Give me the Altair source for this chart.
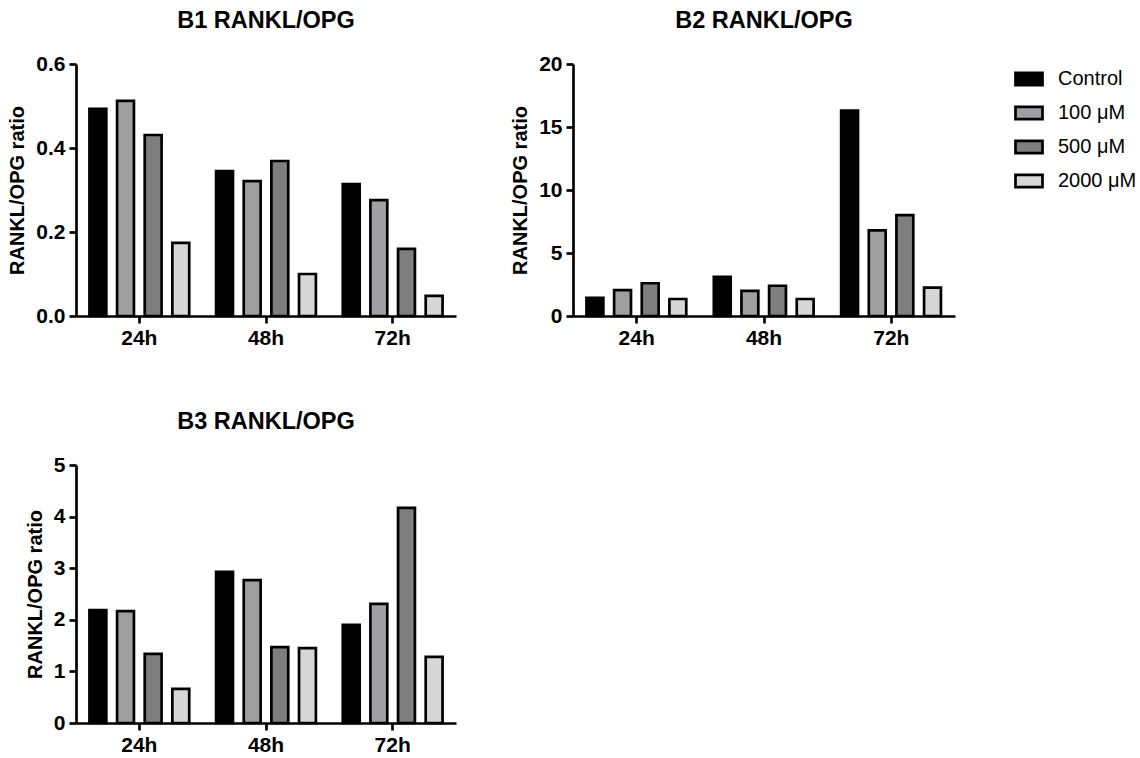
import altair as alt
import pandas as pd

times = ["24h", "48h", "72h"]
groups = ["Control", "100 μM", "500 μM", "2000 μM"]
colors = ["#000000", "#a0a0a4", "#7e7e7e", "#d7d7d7"]

# values per group, in order of times
b1_control = [0.493, 0.345, 0.314]
b1_100 = [0.512, 0.321, 0.276]
b1_500 = [0.431, 0.369, 0.160]
b1_2000 = [0.174, 0.100, 0.048]

b2_control = [1.45, 3.10, 16.3]
b2_100 = [2.05, 2.00, 6.80]
b2_500 = [2.60, 2.40, 8.00]
b2_2000 = [1.35, 1.35, 2.25]

b3_control = [2.19, 2.93, 1.90]
b3_100 = [2.17, 2.77, 2.31]
b3_500 = [1.34, 1.47, 4.17]
b3_2000 = [0.66, 1.45, 1.28]

FONT = "Liberation Sans"


def make_df(series):
    rows = []
    for g, vals in zip(groups, series):
        for t, v in zip(times, vals):
            rows.append({"time": t, "group": g, "value": v})
    return pd.DataFrame(rows)


def panel(title, series, ymax, step, fmt, width, height):
    df = make_df(series)
    ticks = [round(i * step, 6) for i in range(int(round(ymax / step)) + 1)]
    return alt.Chart(df).mark_bar(stroke="black", strokeWidth=2.7).encode(
        x=alt.X("time:N", sort=times,
                scale=alt.Scale(paddingInner=0.125, paddingOuter=0.0625),
                axis=alt.Axis(title=None, labelAngle=0)),
        xOffset=alt.XOffset("group:N", sort=groups,
                            scale=alt.Scale(paddingInner=0.39, paddingOuter=0.2)),
        y=alt.Y("value:Q", scale=alt.Scale(domain=[0, ymax], nice=False),
                axis=alt.Axis(title="RANKL/OPG ratio", values=ticks, format=fmt)),
        color=alt.Color("group:N", sort=groups,
                        scale=alt.Scale(domain=groups, range=colors),
                        legend=alt.Legend(title=None)),
    ).properties(
        width=width, height=height,
        title=alt.TitleParams(title, fontSize=23.5, fontWeight="bold", font=FONT,
                              anchor="middle", offset=21, color="black"),
    )


p1 = panel("B1 RANKL/OPG", [b1_control, b1_100, b1_500, b1_2000], 0.6, 0.2, ".1f", 380, 252)
p2 = panel("B2 RANKL/OPG", [b2_control, b2_100, b2_500, b2_2000], 20, 5, "d", 382, 252)
p3 = panel("B3 RANKL/OPG", [b3_control, b3_100, b3_500, b3_2000], 5, 1, "d", 380, 258)

chart = alt.vconcat(
    alt.hconcat(p1, p2, spacing=54),
    p3,
    spacing=61,
).properties(
    padding={"left": 7, "top": 8, "right": 0, "bottom": 0}
).configure_view(
    stroke=None
).configure_axis(
    domainColor="black", domainWidth=2.7, tickColor="black", tickWidth=2.7,
    tickSize=7, grid=False, labelFont=FONT, labelFontSize=21,
    labelFontWeight="bold", labelColor="black", labelPadding=4,
    titleFont=FONT, titleFontSize=20, titleFontWeight="bold", titleColor="black",
    titlePadding=8,
).configure_legend(
    orient="right", offset=59, labelFont=FONT, labelFontSize=20,
    labelColor="black", symbolType="M-1,-0.45H1V0.45H-1Z", symbolSize=729,
    symbolStrokeColor="black", symbolStrokeWidth=2.7, symbolOpacity=1,
    rowPadding=7, labelOffset=14,
)

chart.save("out.html", embed_options={"renderer": "svg", "actions": False})
